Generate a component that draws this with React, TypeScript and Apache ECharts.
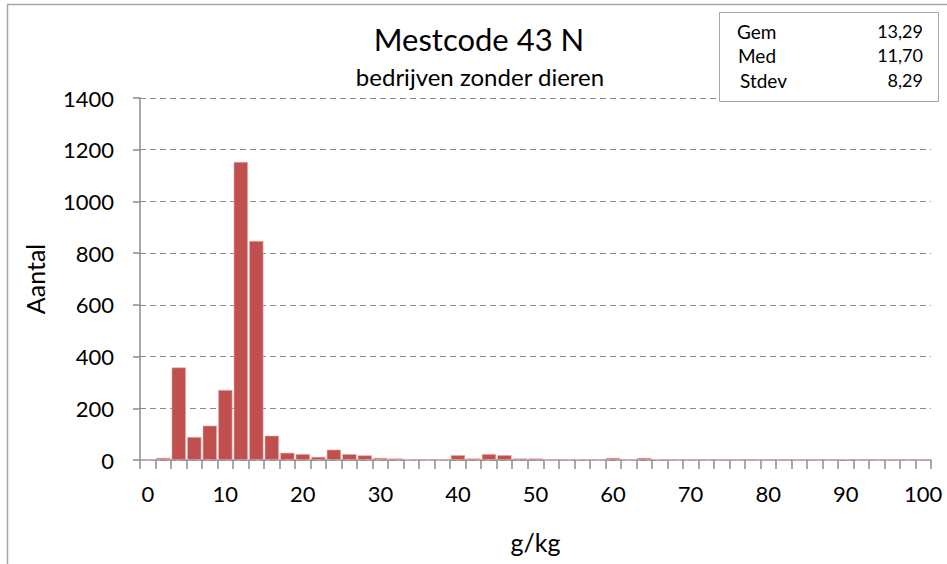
import React, { useEffect, useRef } from "react";
import * as echarts from "echarts";

const categories: string[] = [
  "0","2","4","6","8","10","12","14","16","18","20","22","24","26","28","30","32","34","36","38",
  "40","42","44","46","48","50","52","54","56","58","60","62","64","66","68","70","72","74","76","78",
  "80","82","84","86","88","90","92","94","96","98","100",
];
const counts: number[] = [
  0, 8, 358, 89, 133, 271, 1153, 847, 94, 28, 23, 12, 40, 23, 18, 8, 6, 1, 0, 0,
  19, 6, 23, 19, 6, 6, 0, 0, 2, 0, 8, 0, 8, 2, 0, 0, 0, 0, 0, 0,
  0, 0, 0, 0, 0, 2, 0, 0, 0, 0, 0,
];
const statLabels: string[] = ["Gem", "Med", "Stdev"];
const statValues: string[] = ["13,29", "11,70", "8,29"];
const titleText = "Mestcode 43 N";
const subtitleText = "bedrijven zonder dieren";
const yName = "Aantal";
const xName = "g/kg";

const FONT = "Lato, 'Open Sans', sans-serif";

export default function App() {
  const ref = useRef<HTMLDivElement>(null);
  useEffect(() => {
    if (!ref.current) return;
    const chart = echarts.init(ref.current, undefined, { renderer: "svg" });
    const statY = [31, 55, 80];
    const statX = [737, 738, 740];
    const graphics: any[] = [
      {
        type: "rect",
        shape: { x: 7.5, y: 4.5, width: 960, height: 620 },
        style: { fill: "none", stroke: "#a6a6a6", lineWidth: 1.5 },
        silent: true,
      },
      {
        type: "rect",
        shape: { x: 719.5, y: 12.5, width: 219, height: 89 },
        style: { fill: "#fff", stroke: "#a6a6a6", lineWidth: 1 },
        z: 10,
      },
      {
        type: "text",
        x: 479,
        y: 39,
        style: { text: titleText, textAlign: "center", textVerticalAlign: "middle", font: `31px ${FONT}`, fill: "#000" },
      },
      {
        type: "text",
        x: 480,
        y: 76,
        style: { text: subtitleText, textAlign: "center", textVerticalAlign: "middle", font: `24px ${FONT}`, fill: "#000" },
      },
    ];
    statLabels.forEach((s, i) => {
      graphics.push({
        type: "text",
        x: statX[i],
        y: statY[i],
        z: 11,
        style: { text: s, textAlign: "left", textVerticalAlign: "middle", font: `19px ${FONT}`, fill: "#000" },
      });
      graphics.push({
        type: "text",
        x: 923,
        y: statY[i],
        z: 11,
        style: { text: statValues[i], textAlign: "right", textVerticalAlign: "middle", font: `18px ${FONT}`, fill: "#000" },
      });
    });

    chart.setOption({
      animation: false,
      backgroundColor: "#fff",
      grid: { left: 140, right: 16, top: 98, bottom: 104, containLabel: false },
      xAxis: {
        type: "category",
        data: categories,
        boundaryGap: true,
        name: xName,
        nameLocation: "middle",
        nameGap: 69,
        nameTextStyle: { fontFamily: FONT, fontSize: 25, color: "#000" },
        axisLine: { lineStyle: { color: "#8c8c8c", width: 1.5 } },
        axisTick: { show: true, interval: 0, length: 9, alignWithLabel: false, lineStyle: { color: "#8c8c8c", width: 1.5 } },
        axisLabel: {
          interval: 4,
          margin: 22,
          fontFamily: FONT,
          fontSize: 22,
          color: "#000",
        },
        splitLine: { show: false },
      },
      yAxis: {
        type: "value",
        min: 0,
        max: 1400,
        interval: 200,
        name: yName,
        nameLocation: "middle",
        nameRotate: 90,
        nameGap: 93,
        nameTextStyle: { fontFamily: FONT, fontSize: 25, color: "#000" },
        axisLine: { show: true, lineStyle: { color: "#8c8c8c", width: 1.5 } },
        axisTick: { show: true, length: 7, lineStyle: { color: "#8c8c8c", width: 1.5 } },
        axisLabel: {
          margin: 26,
          fontFamily: FONT,
          fontSize: 22,
          color: "#000",
          formatter: (v: number) => String(v),
        },
        splitLine: { show: true, lineStyle: { color: "#8c8c8c", type: [6, 4], width: 1.2 } },
      },
      series: [
        {
          type: "bar",
          data: counts,
          barCategoryGap: "8%",
          itemStyle: { color: "#C0504D", borderColor: "#E6B9B8", borderWidth: 0.6 },
        },
      ],
      graphic: graphics,
    });
    return () => chart.dispose();
  }, []);
  return <div ref={ref} style={{ position: "fixed", left: 0, top: 0, width: 947, height: 564 }} />;
}
